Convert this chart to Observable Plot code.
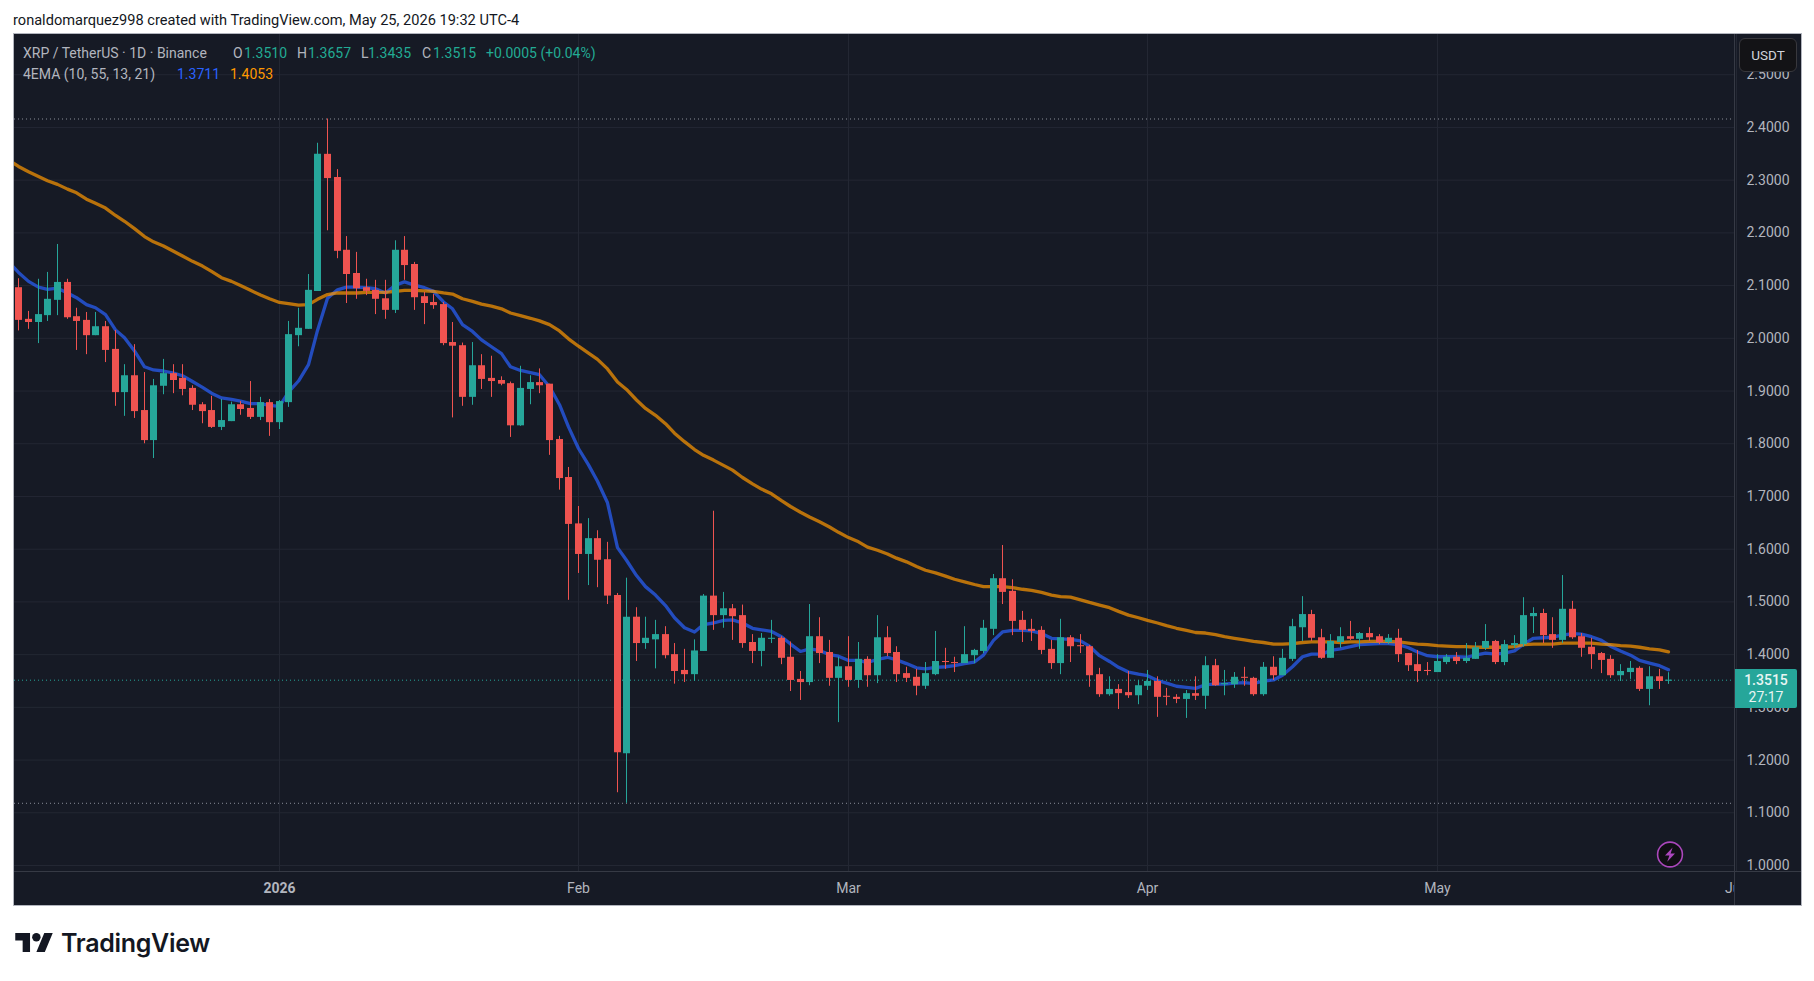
<!DOCTYPE html>
<html><head><meta charset="utf-8">
<script src="https://cdn.jsdelivr.net/npm/d3@7"></script>
<script src="https://cdn.jsdelivr.net/npm/@observablehq/plot@0.6"></script>
<style>
html,body{margin:0;padding:0;background:#fff;width:1814px;height:981px;overflow:hidden}
body{position:relative;font-family:Roboto,sans-serif}
.abs{position:absolute;white-space:nowrap}
#chart{position:absolute;left:13px;top:33px;width:1789px;height:873px}
#chart svg{display:block}
.leg{position:absolute;white-space:nowrap;font:14px/16px Roboto,sans-serif;color:#b2b5be}
.g{color:#22ab94}
</style></head><body>
<div class="abs" id="credit" style="left:13px;top:11px;font-size:14.6px;line-height:18px;color:#131722">ronaldomarquez998 created with TradingView.com, May 25, 2026 19:32 UTC-4</div>
<div id="chart"></div>
<div class="abs" style="left:13px;top:33px;width:1787px;height:871px;border:1px solid #b2b5be;pointer-events:none"></div>
<div class="abs" style="left:1734px;top:34px;width:1px;height:871px;background:#363a45"></div>
<div class="abs" style="left:14px;top:871px;width:1787px;height:1px;background:#363a45"></div>
<div class="abs" style="left:1735px;top:872px;width:30px;height:33px;background:#161a25"></div>
<div class="leg" style="left:23px;top:45px">XRP / TetherUS · 1D · Binance</div>
<div class="leg" style="left:233px;top:45px">O</div><div class="leg g" style="left:244px;top:45px">1.3510</div>
<div class="leg" style="left:297px;top:45px">H</div><div class="leg g" style="left:308px;top:45px">1.3657</div>
<div class="leg" style="left:361px;top:45px">L</div><div class="leg g" style="left:368px;top:45px">1.3435</div>
<div class="leg" style="left:422px;top:45px">C</div><div class="leg g" style="left:433px;top:45px">1.3515</div>
<div class="leg g" style="left:486px;top:45px">+0.0005 (+0.04%)</div>
<div class="leg" style="left:23px;top:66px">4EMA (10, 55, 13, 21)</div>
<div class="leg" style="left:177px;top:66px;color:#2962ff">1.3711</div>
<div class="leg" style="left:230px;top:66px;color:#ff9800">1.4053</div>
<div class="abs" style="left:1739px;top:38px;width:56px;height:32px;background:#131316;border:1px solid #38383d;border-radius:6px;color:#d1d4dc;font-size:13.5px;line-height:32px;text-align:center">USDT</div>
<div class="abs" style="left:1735px;top:669px;width:62px;height:39px;background:#26a69a;border-radius:0 2px 2px 0;color:#e8f5f3;font-size:14px;line-height:17px;text-align:center;padding-top:3px;box-sizing:border-box"><b style="font-weight:500">1.3515</b><br>27:17</div>
<svg class="abs" style="left:1656px;top:841px" width="28" height="28" viewBox="0 0 28 28"><circle cx="14" cy="13.5" r="12.4" fill="#0f0f13" stroke="#ab47bc" stroke-width="1.6"/><path d="M16.6 6.6 9 14.6h4.4l-2.2 6.2 7.8-8.2h-4.4z" fill="#ab47bc"/></svg>
<svg class="abs" style="left:15px;top:933px" width="38" height="19" viewBox="0 4 35.5 18"><path d="M14 22H7V11H0V4h14v18zM28 22h-8l7.5-18h8L28 22z" fill="#131722"/><circle cx="20" cy="8" r="4" fill="#131722"/></svg>
<div class="abs" id="wordmark" style="left:61px;top:928px;font:600 25px/30px Inter,sans-serif;color:#131722;letter-spacing:-.3px">TradingView</div>
<script>
const firstDay = new Date(Date.UTC(2025, 11, 5));

const open = [
2.096,2.036,2.030,2.043,2.072,2.106,2.041,2.034,2.005,2.022,
1.979,1.897,1.929,1.863,1.806,1.909,1.933,1.924,1.905,1.874,
1.863,1.831,1.842,1.874,1.867,1.850,1.878,1.840,1.878,2.005,
2.017,2.089,2.349,2.305,2.167,2.123,2.096,2.091,2.075,2.053,
2.167,2.140,2.079,2.068,2.064,1.992,1.986,1.888,1.948,1.924,
1.920,1.914,1.834,1.903,1.916,1.913,1.808,1.736,1.648,1.590,
1.620,1.580,1.512,1.212,1.471,1.421,1.428,1.438,1.400,1.370,
1.362,1.406,1.511,1.474,1.487,1.474,1.423,1.406,1.429,1.431,
1.395,1.353,1.347,1.434,1.404,1.355,1.377,1.351,1.391,1.360,
1.432,1.404,1.364,1.357,1.340,1.362,1.387,1.385,1.383,1.398,
1.406,1.448,1.544,1.520,1.465,1.448,1.446,1.410,1.383,1.432,
1.417,1.415,1.362,1.324,1.334,1.328,1.322,1.340,1.349,1.321,
1.319,1.315,1.326,1.321,1.379,1.343,1.343,1.357,1.355,1.324,
1.376,1.360,1.391,1.451,1.476,1.432,1.393,1.423,1.434,1.429,
1.440,1.434,1.423,1.431,1.402,1.381,1.370,1.366,1.385,1.395,
1.387,1.391,1.412,1.425,1.385,1.417,1.419,1.472,1.478,1.438,
1.427,1.486,1.434,1.414,1.402,1.391,1.360,1.366,1.374,1.334,
1.358,1.3510];
const high = [
2.113,2.051,2.112,2.125,2.178,2.112,2.057,2.049,2.049,2.032,
2.015,1.950,1.988,1.935,1.922,1.960,1.950,1.950,1.910,1.878,
1.890,1.884,1.879,1.880,1.918,1.888,1.884,1.882,2.032,2.057,
2.121,2.370,2.416,2.320,2.193,2.163,2.112,2.110,2.110,2.185,
2.193,2.144,2.087,2.083,2.068,2.030,1.991,1.992,1.969,1.966,
1.927,1.917,1.947,1.929,1.942,1.913,1.814,1.755,1.681,1.658,
1.635,1.613,1.516,1.545,1.489,1.471,1.465,1.453,1.421,1.410,
1.428,1.514,1.672,1.518,1.495,1.494,1.438,1.440,1.465,1.434,
1.424,1.368,1.495,1.470,1.427,1.395,1.434,1.423,1.396,1.474,
1.453,1.415,1.376,1.372,1.385,1.444,1.412,1.395,1.453,1.410,
1.465,1.552,1.607,1.542,1.482,1.467,1.453,1.427,1.467,1.436,
1.438,1.417,1.374,1.358,1.343,1.368,1.351,1.370,1.358,1.336,
1.324,1.332,1.358,1.396,1.391,1.370,1.366,1.376,1.357,1.385,
1.396,1.410,1.467,1.510,1.484,1.448,1.438,1.451,1.463,1.442,
1.451,1.438,1.438,1.448,1.402,1.408,1.385,1.400,1.400,1.404,
1.421,1.423,1.457,1.427,1.427,1.436,1.508,1.489,1.486,1.470,
1.550,1.501,1.440,1.431,1.404,1.398,1.381,1.387,1.377,1.377,
1.372,1.3657];
const low = [
2.014,2.017,1.990,2.032,2.043,2.036,1.977,1.969,2.005,1.954,
1.871,1.852,1.848,1.800,1.772,1.893,1.895,1.891,1.863,1.838,
1.829,1.825,1.842,1.854,1.846,1.844,1.814,1.827,1.869,1.984,
2.017,2.089,2.204,2.151,2.066,2.074,2.081,2.045,2.036,2.047,
2.110,2.053,2.026,2.055,1.986,1.849,1.871,1.873,1.903,1.888,
1.910,1.812,1.833,1.874,1.895,1.778,1.712,1.503,1.554,1.531,
1.527,1.495,1.138,1.118,1.387,1.410,1.373,1.392,1.344,1.347,
1.349,1.406,1.446,1.450,1.427,1.412,1.383,1.377,1.421,1.381,
1.330,1.313,1.341,1.383,1.340,1.271,1.338,1.336,1.338,1.345,
1.396,1.347,1.347,1.322,1.334,1.360,1.372,1.366,1.383,1.383,
1.402,1.436,1.495,1.436,1.423,1.425,1.400,1.372,1.362,1.385,
1.402,1.338,1.319,1.321,1.296,1.317,1.305,1.332,1.281,1.303,
1.307,1.279,1.313,1.296,1.340,1.322,1.336,1.340,1.321,1.321,
1.351,1.360,1.387,1.425,1.425,1.391,1.393,1.412,1.427,1.410,
1.425,1.419,1.419,1.385,1.368,1.347,1.360,1.366,1.381,1.381,
1.383,1.391,1.408,1.381,1.379,1.412,1.414,1.440,1.421,1.412,
1.421,1.429,1.395,1.372,1.364,1.355,1.349,1.353,1.330,1.303,
1.334,1.3435];
const close = [
2.034,2.030,2.045,2.074,2.106,2.039,2.032,2.005,2.022,1.977,
1.897,1.929,1.861,1.806,1.910,1.933,1.920,1.903,1.873,1.861,
1.831,1.844,1.874,1.865,1.850,1.878,1.840,1.880,2.007,2.019,
2.091,2.349,2.303,2.165,2.121,2.094,2.089,2.074,2.053,2.167,
2.138,2.077,2.066,2.062,1.990,1.985,1.888,1.948,1.922,1.918,
1.913,1.834,1.905,1.916,1.910,1.806,1.734,1.647,1.590,1.620,
1.579,1.511,1.214,1.471,1.421,1.431,1.438,1.398,1.368,1.362,
1.407,1.511,1.474,1.487,1.472,1.421,1.406,1.431,1.431,1.393,
1.351,1.347,1.434,1.402,1.355,1.377,1.351,1.391,1.360,1.432,
1.402,1.362,1.355,1.340,1.364,1.387,1.385,1.383,1.400,1.408,
1.450,1.544,1.518,1.463,1.446,1.444,1.408,1.383,1.432,1.415,
1.415,1.360,1.324,1.334,1.326,1.322,1.341,1.349,1.319,1.319,
1.315,1.326,1.321,1.379,1.341,1.345,1.357,1.355,1.324,1.376,
1.360,1.393,1.453,1.476,1.431,1.393,1.425,1.434,1.429,1.440,
1.432,1.423,1.431,1.400,1.379,1.368,1.368,1.387,1.395,1.387,
1.393,1.413,1.425,1.385,1.419,1.421,1.474,1.478,1.436,1.427,
1.486,1.432,1.412,1.400,1.389,1.360,1.368,1.374,1.334,1.358,
1.349,1.3515];

/* EMA readings start one day before the first candle (off the left edge of the pane) */
const firstEmaDay = new Date(Date.UTC(2025, 11, 4));
const ema10 = [
2.143,2.125,2.108,2.097,2.093,2.095,2.086,2.077,2.064,2.058,2.045,
2.016,2.001,1.976,1.946,1.940,1.938,1.934,1.929,1.918,1.907,
1.896,1.887,1.884,1.881,1.876,1.876,1.873,1.871,1.898,1.919,
1.950,2.015,2.076,2.092,2.097,2.097,2.096,2.094,2.086,2.101,
2.107,2.101,2.096,2.089,2.069,2.056,2.026,2.013,1.997,1.984,
1.971,1.946,1.939,1.935,1.931,1.908,1.874,1.832,1.791,1.760,
1.729,1.688,1.603,1.579,1.550,1.529,1.513,1.493,1.470,1.451,
1.443,1.457,1.460,1.465,1.466,1.460,1.450,1.447,1.444,1.434,
1.420,1.406,1.411,1.408,1.400,1.397,1.389,1.389,1.385,1.391,
1.395,1.390,1.383,1.375,1.373,1.376,1.377,1.379,1.383,1.386,
1.399,1.427,1.443,1.446,1.446,1.445,1.440,1.431,1.430,1.429,
1.426,1.416,1.398,1.387,1.376,1.367,1.363,1.360,1.351,1.346,
1.340,1.338,1.336,1.343,1.344,1.344,1.346,1.347,1.345,1.350,
1.352,1.361,1.377,1.396,1.401,1.401,1.408,1.411,1.415,1.419,
1.420,1.421,1.421,1.419,1.413,1.405,1.398,1.396,1.396,1.396,
1.395,1.399,1.403,1.401,1.403,1.407,1.420,1.431,1.432,1.433,
1.437,1.440,1.439,1.434,1.427,1.416,1.407,1.399,1.389,1.384,
1.379,1.3711];
const ema55 = [
2.337,2.326,2.316,2.307,2.299,2.292,2.283,2.276,2.264,2.256,2.247,
2.233,2.222,2.208,2.193,2.183,2.175,2.165,2.156,2.146,2.137,
2.127,2.115,2.108,2.100,2.091,2.082,2.075,2.068,2.066,2.063,
2.064,2.074,2.083,2.086,2.086,2.086,2.087,2.087,2.087,2.089,
2.091,2.091,2.090,2.089,2.086,2.084,2.075,2.070,2.065,2.061,
2.056,2.048,2.043,2.038,2.033,2.026,2.014,1.999,1.985,1.972,
1.960,1.942,1.917,1.903,1.883,1.867,1.854,1.838,1.820,1.804,
1.789,1.778,1.769,1.759,1.750,1.736,1.724,1.714,1.705,1.692,
1.681,1.670,1.661,1.652,1.642,1.632,1.622,1.614,1.604,1.598,
1.591,1.583,1.576,1.567,1.560,1.555,1.549,1.543,1.538,1.533,
1.529,1.529,1.529,1.527,1.524,1.522,1.518,1.513,1.510,1.509,
1.504,1.499,1.494,1.489,1.482,1.475,1.470,1.465,1.460,1.455,
1.450,1.446,1.442,1.441,1.438,1.434,1.431,1.428,1.425,1.423,
1.420,1.420,1.421,1.423,1.424,1.424,1.424,1.423,1.424,1.424,
1.425,1.425,1.425,1.424,1.422,1.420,1.419,1.417,1.416,1.415,
1.415,1.414,1.414,1.414,1.414,1.415,1.419,1.420,1.420,1.420,
1.422,1.422,1.422,1.422,1.420,1.419,1.417,1.416,1.414,1.411,
1.409,1.4053];

const priceTicks = [1.0,1.1,1.2,1.3,1.4,1.5,1.6,1.7,1.8,1.9,2.0,2.1,2.2,2.3,2.4,2.5];
const yearTick = [new Date(Date.UTC(2026,0,1))];
const monthTicks = [1,2,3,4,5].map(m => new Date(Date.UTC(2026,m,1)));
const monthNames = ["Jan","Feb","Mar","Apr","May","Jun"];
const lastPrice = 1.3515, periodHigh = 2.416, periodLow = 1.118;

const GREEN = "#26a69a", RED = "#ef5350", GRID = "#232733", BG = "#161a25", LABEL = "#b2b5be";

const candles = open.map((o,i) => {
  const c = close[i], top = Math.max(o,c);
  return {date: d3.utcDay.offset(firstDay,i), high: high[i], low: low[i], top,
          bottom: Math.min(Math.min(o,c), top-0.002), color: c>=o ? GREEN : RED};
});
const emaRows = arr => arr.map((v,i) => ({date: d3.utcDay.offset(firstEmaDay,i), v}));
const allTimeTicks = [...yearTick, ...monthTicks];

const plot = Plot.plot({
  width: 1789, height: 873,
  marginLeft: 1, marginRight: 68, marginTop: 1, marginBottom: 35,
  style: {background: BG, color: LABEL, fontFamily: "Roboto, sans-serif", fontSize: "14px"},
  x: {type: "utc", domain: [new Date(Date.UTC(2025,11,4,13,18)), new Date(Date.UTC(2026,4,31,19,41))], round: true},
  y: {type: "linear", domain: [0.98862, 2.5763]},
  marks: [
    Plot.gridY(priceTicks, {stroke: GRID, strokeOpacity: 1}),
    Plot.gridX(allTimeTicks, {stroke: GRID, strokeOpacity: 1}),
    Plot.ruleY([periodHigh, periodLow], {stroke: "#8a8e99", strokeDasharray: "1 3"}),
    Plot.ruleY([lastPrice], {stroke: GREEN, strokeDasharray: "1 3"}),
    Plot.line(emaRows(ema10), {x: "date", y: "v", stroke: "#2962ff", strokeOpacity: 0.7, strokeWidth: 3.3, clip: true}),
    Plot.line(emaRows(ema55), {x: "date", y: "v", stroke: "#ff9800", strokeOpacity: 0.7, strokeWidth: 3.3, clip: true}),
    Plot.ruleX(candles, {x: "date", y1: "low", y2: "high", stroke: "color", strokeWidth: 1}),
    Plot.ruleX(candles, {x: "date", y1: "bottom", y2: "top", stroke: "color", strokeWidth: 7}),
    Plot.axisY(priceTicks, {anchor: "right", tickSize: 0, tickPadding: 12, tickFormat: d => d.toFixed(4), label: null, fill: LABEL, fontSize: 14}),
    Plot.axisX(yearTick, {anchor: "bottom", tickSize: 0, tickPadding: 12, tickFormat: d => String(d.getUTCFullYear()), label: null, fill: LABEL, fontSize: 14, fontWeight: 700}),
    Plot.axisX(monthTicks, {anchor: "bottom", tickSize: 0, tickPadding: 12, tickFormat: d => monthNames[d.getUTCMonth()], label: null, fill: LABEL, fontSize: 14})
  ]
});
document.getElementById("chart").appendChild(plot);
</script>
</body></html>
